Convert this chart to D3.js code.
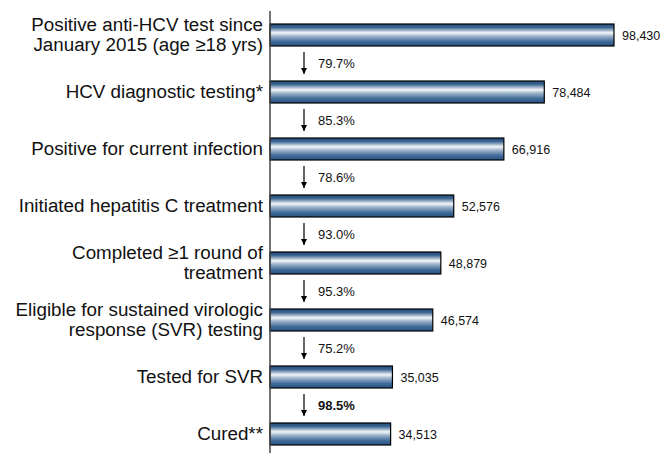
<!DOCTYPE html>
<html>
<head>
<meta charset="utf-8">
<script src="https://cdn.jsdelivr.net/npm/d3@7"></script>
<style>
	body { margin: 0; background: #fff; }
	svg { display: block; font-family: "Liberation Sans", Arial, sans-serif; }
</style>
</head>
<body>
<svg id="chart" width="665" height="453"></svg>
<script>
// cascade steps, top to bottom
var steps = [
	["Positive anti-HCV test since", "January 2015 (age \u226518 yrs)"],
	["HCV diagnostic testing*"],
	["Positive for current infection"],
	["Initiated hepatitis C treatment"],
	["Completed \u22651 round of", "treatment"],
	["Eligible for sustained virologic", "response (SVR) testing"],
	["Tested for SVR"],
	["Cured**"]
];
var counts = [98430, 78484, 66916, 52576, 48879, 46574, 35035, 34513];
var pctLabels = ["79.7%", "85.3%", "78.6%", "93.0%", "95.3%", "75.2%", "98.5%"];
var boldPct = [false, false, false, false, false, false, true];

var svg = d3.select("#chart");
var fmt = d3.format(",");

var x = d3.scaleLinear().domain([0, 98430]).range([270, 614]);
var y = d3.scaleBand()
	.domain(d3.range(steps.length))
	.range([6.5, 462.5])
	.paddingInner(0.614)
	.paddingOuter(0.307);

var defs = svg.append("defs");
var grad = defs.append("linearGradient")
	.attr("id", "barGrad")
	.attr("x1", 0).attr("y1", 0).attr("x2", 0).attr("y2", 1);
grad.append("stop").attr("offset", "0%").attr("stop-color", "#244b78");
grad.append("stop").attr("offset", "15%").attr("stop-color", "#386390");
grad.append("stop").attr("offset", "40%").attr("stop-color", "#f4f7fa");
grad.append("stop").attr("offset", "55%").attr("stop-color", "#9fb5cc");
grad.append("stop").attr("offset", "80%").attr("stop-color", "#3f6b99");
grad.append("stop").attr("offset", "100%").attr("stop-color", "#2a5281");

defs.append("marker")
	.attr("id", "arrowHead")
	.attr("viewBox", "0 0 10 10")
	.attr("refX", 10).attr("refY", 5)
	.attr("markerWidth", 7).attr("markerHeight", 6)
	.attr("markerUnits", "userSpaceOnUse")
	.attr("orient", "auto")
	.append("path")
	.attr("d", "M0,0 L10,5 L0,10 Z")
	.attr("fill", "#000");

// bars
svg.selectAll(".bar")
	.data(counts)
	.enter().append("rect")
	.attr("class", "bar")
	.attr("x", x(0))
	.attr("y", function(d, i) { return y(i); })
	.attr("width", function(d) { return x(d) - x(0); })
	.attr("height", y.bandwidth())
	.attr("fill", "url(#barGrad)")
	.attr("stroke", "#000")
	.attr("stroke-width", 1.2);

// axis line
svg.append("line")
	.attr("x1", x(0)).attr("x2", x(0))
	.attr("y1", 11).attr("y2", 453)
	.attr("stroke", "#444")
	.attr("stroke-width", 1.5);

// value labels
svg.selectAll(".val")
	.data(counts)
	.enter().append("text")
	.attr("class", "val")
	.attr("x", function(d) { return x(d) + 8; })
	.attr("y", function(d, i) { return y(i) + y.bandwidth() / 2 + 4.5; })
	.attr("font-size", 12.5)
	.attr("fill", "#111")
	.text(function(d) { return fmt(d); });

// category labels
var cat = svg.selectAll(".cat")
	.data(steps)
	.enter().append("text")
	.attr("class", "cat")
	.attr("text-anchor", "end")
	.attr("font-size", 18.8)
	.attr("fill", "#111");
cat.each(function(lines, i) {
	var cy = y(i) + y.bandwidth() / 2;
	var t = d3.select(this);
	lines.forEach(function(line, j) {
		t.append("tspan")
			.attr("x", 263)
			.attr("y", cy + 6 + (j - (lines.length - 1) / 2) * 20)
			.text(line);
	});
});

// conversion arrows + percentages
var gaps = svg.selectAll(".gap")
	.data(pctLabels)
	.enter().append("g")
	.attr("class", "gap");
gaps.append("line")
	.attr("x1", 304).attr("x2", 304)
	.attr("y1", function(d, i) { return y(i) + y.bandwidth() + 6; })
	.attr("y2", function(d, i) { return y(i + 1) - 7; })
	.attr("stroke", "#000")
	.attr("stroke-width", 1.2)
	.attr("marker-end", "url(#arrowHead)");
gaps.append("text")
	.attr("x", 318)
	.attr("y", function(d, i) { return (y(i) + y.bandwidth() + y(i + 1)) / 2 + 4.5; })
	.attr("font-size", 13)
	.attr("font-weight", function(d, i) { return boldPct[i] ? "bold" : "normal"; })
	.attr("fill", "#111")
	.text(function(d) { return d; });
</script>
</body>
</html>
